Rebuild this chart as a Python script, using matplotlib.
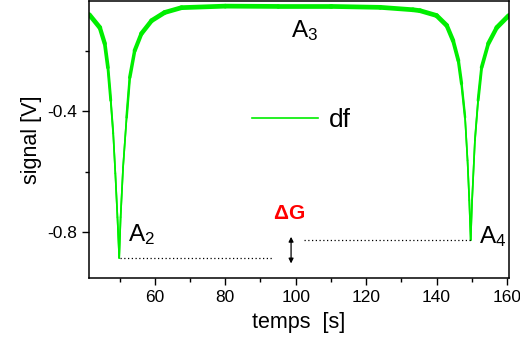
import numpy as np
import matplotlib
matplotlib.use('Agg')
import matplotlib.pyplot as plt
from matplotlib.ticker import MultipleLocator
from matplotlib.collections import LineCollection

plt.rcParams['font.family'] = ['Liberation Sans', 'DejaVu Sans']
plt.rcParams['mathtext.default'] = 'regular'
plt.rcParams['axes.unicode_minus'] = False

# signal
temps = [41.4, 44.4, 45.8, 46.7, 47.5, 48.2, 48.8, 49.4, 49.9, 50.3, 51.0, 52.0,
         52.9, 54.3, 56.2, 59.1, 62.8, 67.6, 80.0, 95.0, 110.0, 124.0, 133.3,
         135.3, 140.0, 142.9, 144.7, 146.2, 147.1, 148.1, 148.8, 149.3, 149.7,
         150.1, 150.9, 151.8, 152.8, 154.7, 157.1, 160.5]
signal = [-0.080, -0.123, -0.176, -0.255, -0.364, -0.473, -0.605, -0.750, -0.885,
          -0.750, -0.585, -0.420, -0.288, -0.199, -0.143, -0.100, -0.073, -0.057,
          -0.052, -0.053, -0.053, -0.056, -0.064, -0.067, -0.083, -0.116, -0.166,
          -0.232, -0.308, -0.420, -0.562, -0.694, -0.826, -0.694, -0.496, -0.364,
          -0.255, -0.176, -0.123, -0.083]

a2_level = -0.885
a4_level = -0.826
a2_line_x = [50.0, 93.5]
a4_line_x = [102.3, 150.0]

t = np.array(temps)
s = np.array(signal)
green = '#00ee00'

fig = plt.figure(figsize=(5.2, 3.47), dpi=100)
ax = fig.add_axes([0.171, 0.199, 0.808, 0.799])

ax.plot(t, s, color=green, lw=1.2, label='df')
# noise band: thicker where the signal sits near its plateau
pts = np.column_stack([t, s]).reshape(-1, 1, 2)
segs = np.concatenate([pts[:-1], pts[1:]], axis=1)
smid = (s[:-1] + s[1:]) / 2
widths = 1.2 + 2.2 * np.clip((smid + 0.45) / 0.35, 0, 1)
ax.add_collection(LineCollection(segs, colors=green, linewidths=widths,
                                 capstyle='round', joinstyle='round'))

ax.plot(a2_line_x, [a2_level, a2_level], color='black', lw=0.9, ls=(0, (1, 2)))
ax.plot(a4_line_x, [a4_level, a4_level], color='black', lw=0.9, ls=(0, (1, 2)))

ax.annotate('', xy=(98.7, -0.903), xytext=(98.7, -0.815),
            arrowprops=dict(arrowstyle='<|-|>', color='black', lw=0.9,
                            mutation_scale=7, shrinkA=0, shrinkB=0))

ax.text(98.1, -0.738, r'$\Delta$G', color='red', fontsize=15, fontweight='bold',
        ha='center', va='center')
ax.text(52.3, -0.829, 'A$_2$', fontsize=17.5, va='baseline')
ax.text(98.7, -0.156, 'A$_3$', fontsize=17.5, va='baseline')
ax.text(152.1, -0.836, 'A$_4$', fontsize=17.5, va='baseline')

ax.set_xlim(41.3, 160.6)
ax.set_ylim(-0.951, -0.034)
ax.xaxis.set_major_locator(MultipleLocator(20))
ax.xaxis.set_minor_locator(MultipleLocator(10))
ax.yaxis.set_major_locator(MultipleLocator(0.4))
ax.yaxis.set_minor_locator(MultipleLocator(0.2))
ax.tick_params(which='major', direction='out', length=5, width=1, labelsize=12.5)
ax.tick_params(which='minor', direction='out', length=3, width=1)
for sp in ax.spines.values():
    sp.set_linewidth(1.1)

ax.set_xlabel('temps  [s]', fontsize=15.5, labelpad=5)
ax.set_ylabel('signal [V]', fontsize=15.5, labelpad=4)

ax.legend(loc='center left', bbox_to_anchor=(0.388, 0.568), frameon=False,
          fontsize=19, handlelength=2.5, handletextpad=0.4, borderpad=0,
          borderaxespad=0)

fig.savefig('out.png', dpi=100)
